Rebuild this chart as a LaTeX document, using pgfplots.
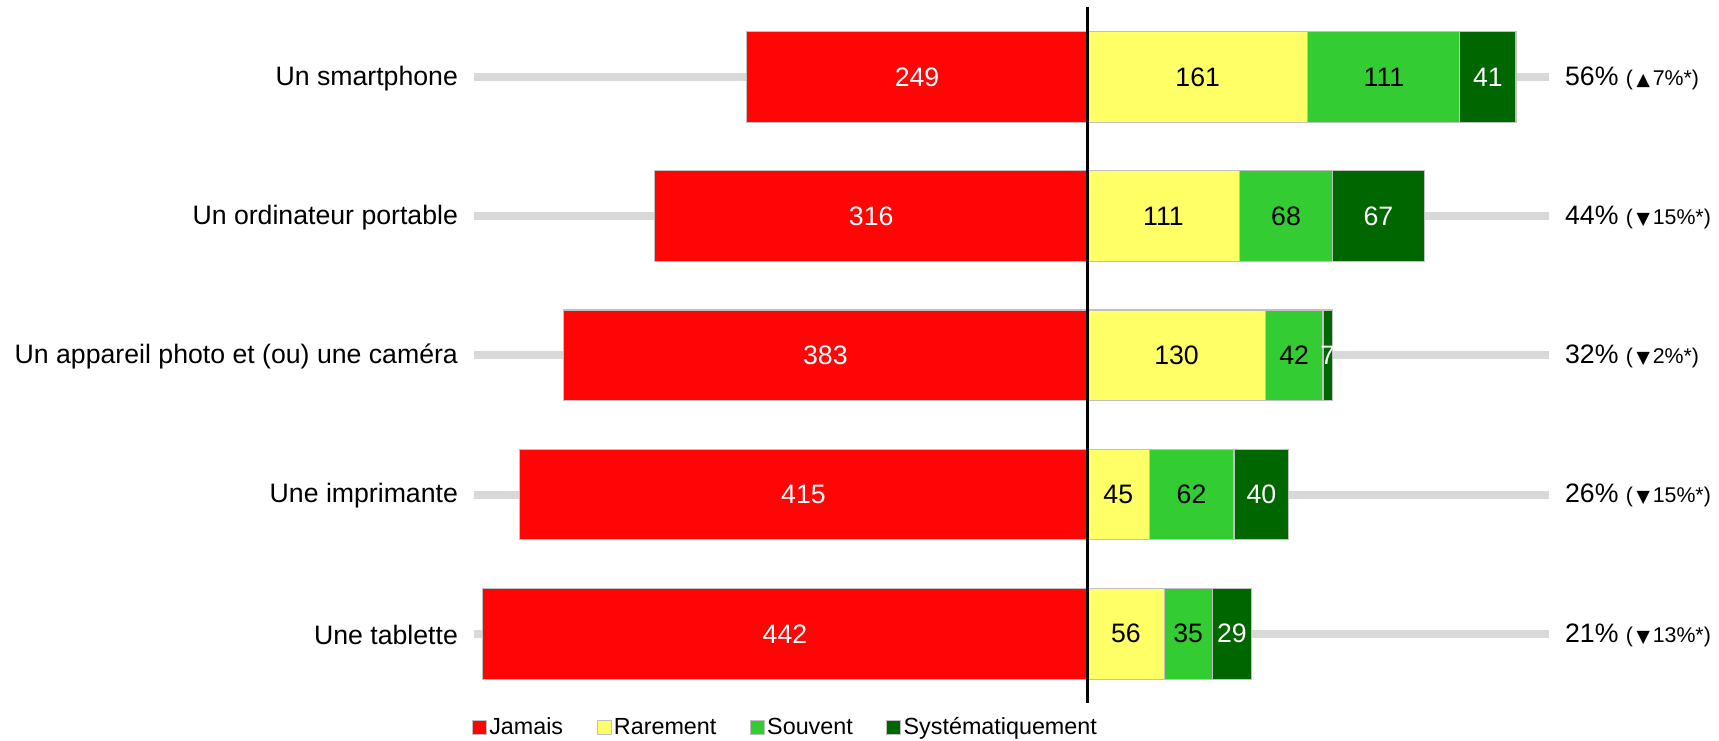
\documentclass[border=0pt]{standalone}
\usepackage{fontspec}
\setmainfont{Liberation Sans}
\newfontfamily\dejavu{DejaVu Sans}
\usepackage{pgfplots}
\pgfplotsset{compat=1.18}
\definecolor{jamais}{HTML}{FF0505}
\definecolor{rarement}{HTML}{FFFF66}
\definecolor{souvent}{HTML}{33CC33}
\definecolor{systema}{HTML}{006600}
\definecolor{barline}{HTML}{C0C0C0}
\definecolor{track}{HTML}{D9D9D9}
% small change note after the share, e.g. (▲7%*)
\newcommand{\tri}[1]{{\,\dejavu\fontsize{13}{15}\selectfont #1\,}}
\newcommand{\sm}[1]{{\fontsize{16}{19}\selectfont #1}}

\pgfplotsset{
  common/.style={
    scale only axis, width=806pt, height=522pt,
    at={(0,0)}, anchor=south west,
    xmin=-448, xmax=337, ymin=-0.5, ymax=4.5, y dir=reverse,
    axis line style={draw=none}, major tick length=0pt,
    xtick=\empty,
  },
  labelplot/.style={
    draw=none, mark=none, nodes near coords, point meta=explicit symbolic,
    every node near coord/.append style={anchor=center, text=#1,
      font=\fontsize{20}{24}\selectfont},
  },
}

\begin{document}
\begin{tikzpicture}
% gray tracks, Jamais bars, category names
\begin{axis}[common,
  ytick={0,...,4},
  yticklabels={Un smartphone, Un ordinateur portable,
    Un appareil photo et (ou) une caméra, Une imprimante, Une tablette},
  yticklabel style={font=\fontsize{20}{24}\selectfont, inner sep=0pt, xshift=-12pt, yshift=-1pt},
]
\addplot[track, line width=6pt] coordinates {(-448,0) (337,0)};
\addplot[track, line width=6pt] coordinates {(-448,1) (337,1)};
\addplot[track, line width=6pt] coordinates {(-448,2) (337,2)};
\addplot[track, line width=6pt] coordinates {(-448,3) (337,3)};
\addplot[track, line width=6pt] coordinates {(-448,4) (337,4)};
\addplot[xbar, bar shift=0pt, bar width=68pt, fill=jamais, draw=barline, line width=0.8pt]
  coordinates {(-249,0) (-316,1) (-383,2) (-415,3) (-442,4)};
\end{axis}

% positive answers, stacked
\begin{axis}[common,
  xbar stacked, bar width=68pt,
  ytick={0,...,4}, yticklabel pos=right,
  yticklabels={{56\% \sm{(\tri{▲}7\%*)}}, {44\% \sm{(\tri{▼}15\%*)}},
    {32\% \sm{(\tri{▼}2\%*)}}, {26\% \sm{(\tri{▼}15\%*)}}, {21\% \sm{(\tri{▼}13\%*)}}},
  yticklabel style={font=\fontsize{20}{24}\selectfont, inner sep=0pt, xshift=12pt, yshift=-1pt},
  legend image code/.code={\draw[#1, line width=0.6pt] (0pt,-5.25pt) rectangle (10.5pt,5.25pt);},
  legend columns=4,
  legend style={draw=none, fill=none, at={(0,0)}, anchor=west, yshift=-18pt, xshift=-2pt,
    inner sep=0pt, font=\fontsize{17.5}{21}\selectfont,
    /tikz/every even column/.append style={column sep=23pt}},
]
\addlegendimage{fill=jamais, draw=barline}
\addlegendentry{Jamais}
\addplot[fill=rarement, draw=barline, line width=0.8pt]
  coordinates {(161,0) (111,1) (130,2) (45,3) (56,4)};
\addlegendentry{Rarement}
\addplot[fill=souvent, draw=barline, line width=0.8pt]
  coordinates {(111,0) (68,1) (42,2) (62,3) (35,4)};
\addlegendentry{Souvent}
\addplot[fill=systema, draw=barline, line width=0.8pt]
  coordinates {(41,0) (67,1) (7,2) (40,3) (29,4)};
\addlegendentry{Systématiquement}
\end{axis}

% zero line and value labels
\begin{axis}[common, ytick=\empty]
\addplot[black, line width=2pt] coordinates {(0,-0.5) (0,4.5)};
\addplot[labelplot=white] table[meta=l] {
x y l
-124.5 0 249
-158 1 316
-191.5 2 383
-207.5 3 415
-221 4 442
};
\addplot[labelplot=black] table[meta=l] {
x y l
80.5 0 161
55.5 1 111
65 2 130
22.5 3 45
28 4 56
};
\addplot[labelplot=black] table[meta=l] {
x y l
216.5 0 111
145 1 68
151 2 42
76 3 62
73.5 4 35
};
\addplot[labelplot=white] table[meta=l] {
x y l
292.5 0 41
212.5 1 67
175.5 2 7
127 3 40
105.5 4 29
};
\end{axis}
\pgfresetboundingbox
\path (-355.65pt,-27.5pt) rectangle (933.6pt,527.5pt);
\end{tikzpicture}
\end{document}
